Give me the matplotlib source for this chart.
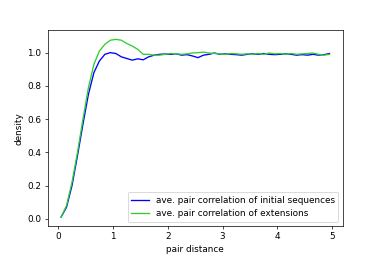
import numpy as np
import matplotlib
matplotlib.use("Agg")
import matplotlib.pyplot as plt

x = [0.05, 0.15, 0.25, 0.35, 0.45, 0.55, 0.65, 0.75, 0.85, 0.95,
     1.05, 1.15, 1.25, 1.35, 1.45, 1.55, 1.65, 1.75, 1.85, 1.95,
     2.05, 2.15, 2.25, 2.35, 2.45, 2.55, 2.65, 2.75, 2.85, 2.95,
     3.05, 3.15, 3.25, 3.35, 3.45, 3.55, 3.65, 3.75, 3.85, 3.95,
     4.05, 4.15, 4.25, 4.35, 4.45, 4.55, 4.65, 4.75, 4.85, 4.95]

initial = [0.01, 0.07, 0.20, 0.38, 0.57, 0.75, 0.88, 0.95, 0.99, 1.00,
           0.995, 0.975, 0.965, 0.955, 0.963, 0.957, 0.975, 0.985, 0.99, 0.992,
           0.99, 0.993, 0.985, 0.988, 0.98, 0.97, 0.985, 0.99, 0.998, 0.99,
           0.993, 0.99, 0.988, 0.985, 0.99, 0.993, 0.99, 0.995, 0.99, 0.988,
           0.99, 0.993, 0.99, 0.985, 0.988, 0.985, 0.99, 0.985, 0.988, 0.995]

extension = [0.01, 0.08, 0.22, 0.40, 0.60, 0.79, 0.93, 1.01, 1.05, 1.075,
             1.08, 1.075, 1.055, 1.04, 1.02, 0.99, 0.99, 0.985, 0.985, 0.99,
             0.995, 0.993, 0.99, 0.993, 0.998, 1.0, 1.003, 0.998, 0.995, 0.992,
             0.99, 0.995, 0.993, 0.99, 0.993, 0.99, 0.995, 0.99, 0.998, 0.993,
             0.995, 0.99, 0.995, 0.99, 0.993, 0.995, 0.998, 0.99, 0.985, 0.99]

fig = plt.figure(figsize=(6, 4), dpi=63.5)
ax = fig.add_subplot(111)
ax.plot(x, initial, color="blue", label="ave. pair correlation of initial sequences")
ax.plot(x, extension, color="limegreen", label="ave. pair correlation of extensions")
ax.set_xlabel("pair distance")
ax.set_ylabel("density")
ax.legend(loc="lower right")
fig.savefig("out.png", dpi=63.5)
